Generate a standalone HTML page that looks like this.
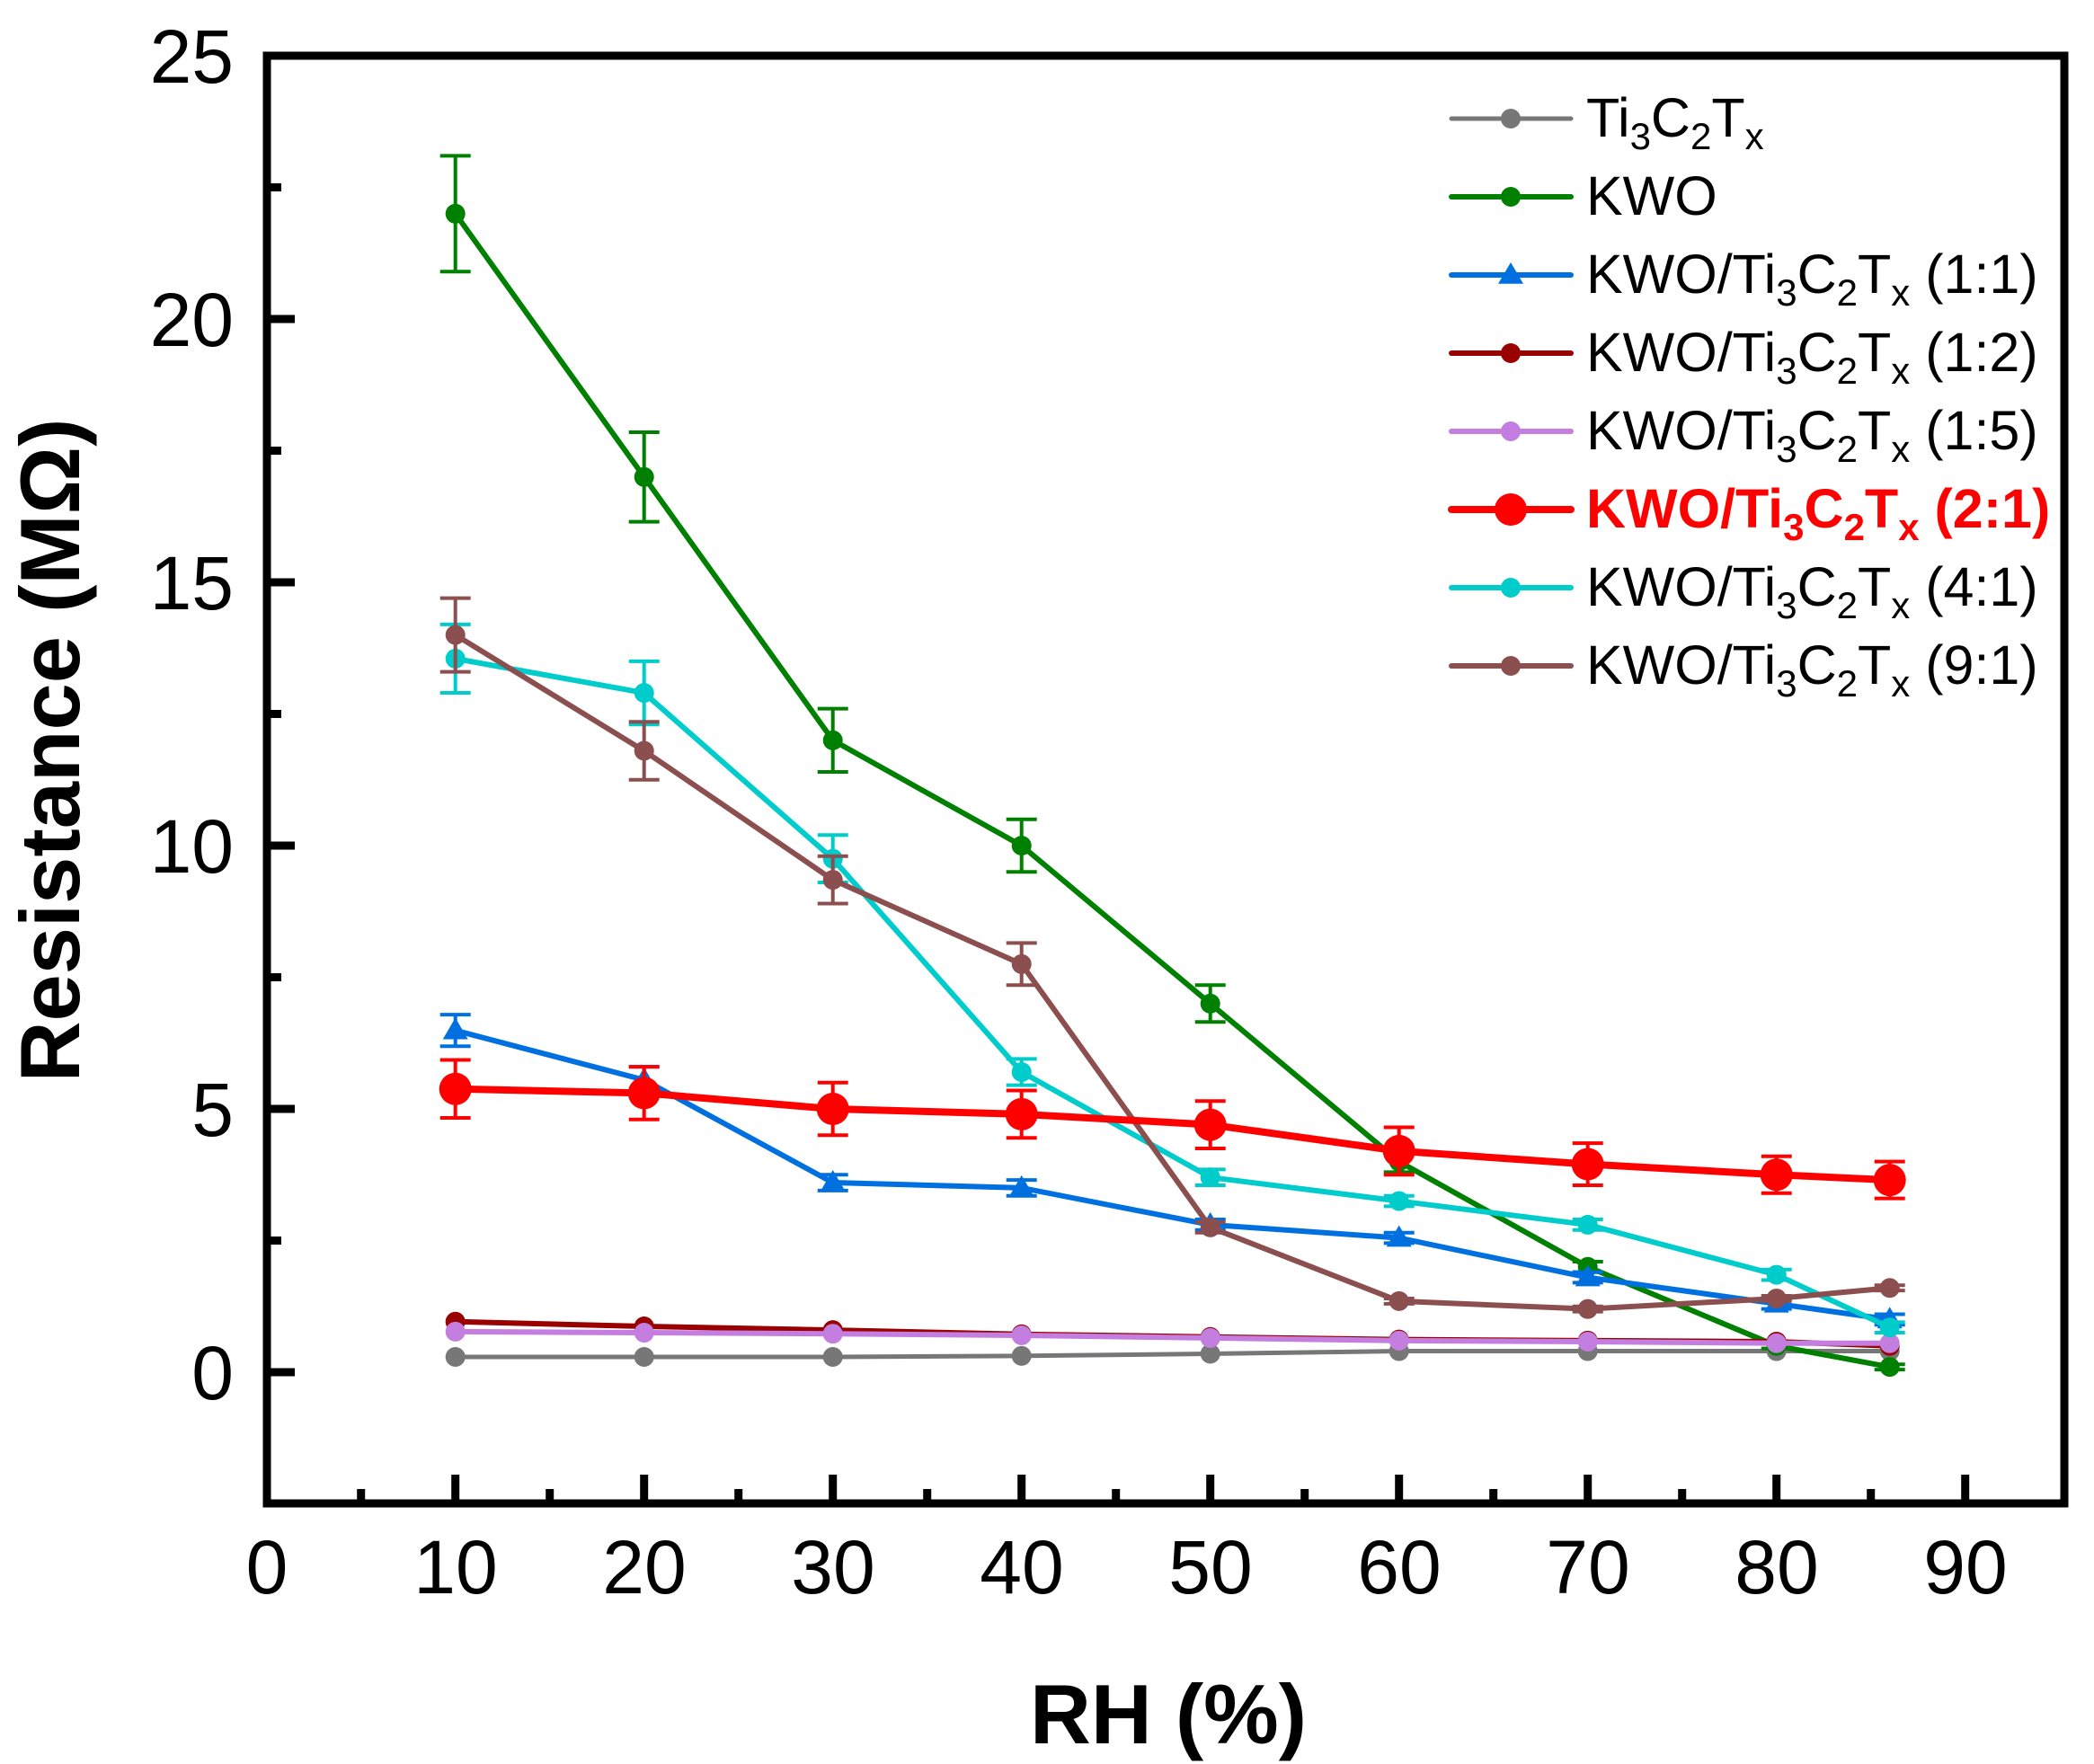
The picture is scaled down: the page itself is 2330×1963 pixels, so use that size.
<!DOCTYPE html>
<html><head><meta charset="utf-8"><style>
html,body{margin:0;padding:0;background:#fff;}
svg{display:block;font-family:"Liberation Sans",Arial,sans-serif;}
</style></head><body>
<svg id="c" width="2330" height="1963" viewBox="0 0 2330 1963" xmlns="http://www.w3.org/2000/svg">
<g id="series"></g>
<rect x="297" y="62" width="2000" height="1611" fill="none" stroke="#000" stroke-width="9"/>
<g id="ticks" stroke="#000" stroke-width="9"></g>
<g font-size="84" text-anchor="end" fill="#000">
<text x="260" y="1557">0</text>
<text x="260" y="1264">5</text>
<text x="260" y="971">10</text>
<text x="260" y="678">15</text>
<text x="260" y="385">20</text>
<text x="260" y="92">25</text>
</g>
<g font-size="84" text-anchor="middle" fill="#000">
<text x="297" y="1773">0</text><text x="507" y="1773">10</text><text x="717" y="1773">20</text>
<text x="927" y="1773">30</text><text x="1137" y="1773">40</text><text x="1347" y="1773">50</text>
<text x="1557" y="1773">60</text><text x="1767" y="1773">70</text><text x="1977" y="1773">80</text>
<text x="2187" y="1773">90</text>
</g>
<text x="1300" y="1940" font-size="94" font-weight="bold" text-anchor="middle">RH (%)</text>
<text transform="translate(88,835) rotate(-90)" font-size="94" font-weight="bold" text-anchor="middle">Resistance (MΩ)</text>
<g id="legend"></g>
<g font-size="61" fill="#000">
<text x="1765" y="152">Ti<tspan font-size="42" dy="14">3</tspan><tspan dy="-14">C</tspan><tspan font-size="42" dy="14">2</tspan><tspan dy="-14">T</tspan><tspan font-size="42" dy="14">x</tspan></text>
<text x="1765" y="239">KWO</text>
<text x="1765" y="326">KWO/Ti<tspan font-size="42" dy="14">3</tspan><tspan dy="-14">C</tspan><tspan font-size="42" dy="14">2</tspan><tspan dy="-14">T</tspan><tspan font-size="42" dy="14">x</tspan><tspan dy="-14"> (1:1)</tspan></text>
<text x="1765" y="413">KWO/Ti<tspan font-size="42" dy="14">3</tspan><tspan dy="-14">C</tspan><tspan font-size="42" dy="14">2</tspan><tspan dy="-14">T</tspan><tspan font-size="42" dy="14">x</tspan><tspan dy="-14"> (1:2)</tspan></text>
<text x="1765" y="500">KWO/Ti<tspan font-size="42" dy="14">3</tspan><tspan dy="-14">C</tspan><tspan font-size="42" dy="14">2</tspan><tspan dy="-14">T</tspan><tspan font-size="42" dy="14">x</tspan><tspan dy="-14"> (1:5)</tspan></text>
<text x="1765" y="587" fill="#ff0000" font-weight="bold">KWO/Ti<tspan font-size="42" dy="14">3</tspan><tspan dy="-14">C</tspan><tspan font-size="42" dy="14">2</tspan><tspan dy="-14">T</tspan><tspan font-size="42" dy="14">x</tspan><tspan dy="-14"> (2:1)</tspan></text>
<text x="1765" y="674">KWO/Ti<tspan font-size="42" dy="14">3</tspan><tspan dy="-14">C</tspan><tspan font-size="42" dy="14">2</tspan><tspan dy="-14">T</tspan><tspan font-size="42" dy="14">x</tspan><tspan dy="-14"> (4:1)</tspan></text>
<text x="1765" y="761">KWO/Ti<tspan font-size="42" dy="14">3</tspan><tspan dy="-14">C</tspan><tspan font-size="42" dy="14">2</tspan><tspan dy="-14">T</tspan><tspan font-size="42" dy="14">x</tspan><tspan dy="-14"> (9:1)</tspan></text>
</g>
</svg>
<script>
var NS="http://www.w3.org/2000/svg";
function el(p,t,a){var e=document.createElementNS(NS,t);for(var k in a)e.setAttribute(k,a[k]);p.appendChild(e);return e;}
function X(v){return 296.7+21*v;} function Y(v){return 1527-58.6*v;}
var tk=document.getElementById('ticks');
for(var v=0;v<=25;v+=2.5){var L=(v%5==0)?31:16;el(tk,'line',{x1:297,x2:297+L,y1:Y(v),y2:Y(v)});}
for(var v=5;v<=90;v+=5){var L=(v%10==0)?32:16;el(tk,'line',{x1:X(v),x2:X(v),y1:1673,y2:1673-L});}
var xs=[10,20,30,40,50,60,70,80,86];
var S=[
{c:'#777777',y:[0.29,0.29,0.29,0.31,0.35,0.4,0.4,0.4,0.4],e:[0,0,0,0,0,0,0,0,0],m:'o',r:11,w:5},
{c:'#008000',y:[22,17,12,10,7,4,2,0.5,0.1],e:[1.1,0.85,0.6,0.5,0.35,0.2,0.1,0.05,0.05],m:'o',r:11,w:6},
{c:'#0070e0',y:[6.49,5.55,3.6,3.5,2.8,2.55,1.8,1.3,1.0],e:[0.3,0.25,0.15,0.15,0.1,0.1,0.1,0.1,0.1],m:'t',r:14,w:6},
{c:'#990000',y:[0.96,0.87,0.8,0.72,0.67,0.62,0.6,0.58,0.5],e:[0,0,0,0,0,0,0,0,0],m:'o',r:11,w:6},
{c:'#c47ee0',y:[0.77,0.75,0.73,0.7,0.65,0.6,0.58,0.55,0.55],e:[0,0,0,0,0,0,0,0,0],m:'o',r:11,w:6},
{c:'#00cccc',y:[13.55,12.9,9.75,5.7,3.7,3.25,2.8,1.85,0.85],e:[0.65,0.6,0.45,0.25,0.15,0.1,0.1,0.1,0.1],m:'o',r:11,w:6},
{c:'#8b4f4f',y:[14.0,11.8,9.35,7.75,2.75,1.35,1.2,1.4,1.6],e:[0.7,0.55,0.45,0.4,0.1,0.05,0.05,0.05,0.05],m:'o',r:11,w:6},
{c:'#ff0000',y:[5.38,5.3,5.0,4.9,4.7,4.2,3.95,3.75,3.65],e:[0.55,0.5,0.5,0.45,0.45,0.45,0.4,0.35,0.35],m:'o',r:18,w:8}
];
var g=document.getElementById('series');
S.forEach(function(s){
 var pts=xs.map(function(x,i){return X(x)+','+Y(s.y[i]);}).join(' ');
 s.y.forEach(function(v,i){if(s.e[i]>0){var x=X(xs[i]),a=Y(v+s.e[i]),b=Y(v-s.e[i]);
  el(g,'line',{x1:x,x2:x,y1:a,y2:b,stroke:s.c,'stroke-width':4});
  el(g,'line',{x1:x-17,x2:x+17,y1:a,y2:a,stroke:s.c,'stroke-width':4});
  el(g,'line',{x1:x-17,x2:x+17,y1:b,y2:b,stroke:s.c,'stroke-width':4});}});
 el(g,'polyline',{points:pts,fill:'none',stroke:s.c,'stroke-width':s.w,'stroke-linejoin':'round'});
 s.y.forEach(function(v,i){mk(g,s,X(xs[i]),Y(v));});
});
function mk(p,s,x,y){if(s.m=='t'){var r=s.r;el(p,'polygon',{points:(x)+','+(y-r)+' '+(x-r)+','+(y+r*0.7)+' '+(x+r)+','+(y+r*0.7),fill:s.c});}
 else el(p,'circle',{cx:x,cy:y,r:s.r,fill:s.c});}
var lg=document.getElementById('legend');
var order=[0,1,2,3,4,7,5,6],ly=[132,219,306,393,480,567,654,741];
order.forEach(function(k,i){var s=S[k];
 el(lg,'line',{x1:1615,x2:1748,y1:ly[i],y2:ly[i],stroke:s.c,'stroke-width':s.w,'stroke-linecap':'round'});
 mk(lg,s,1681,ly[i]);});
</script>
</body></html>
